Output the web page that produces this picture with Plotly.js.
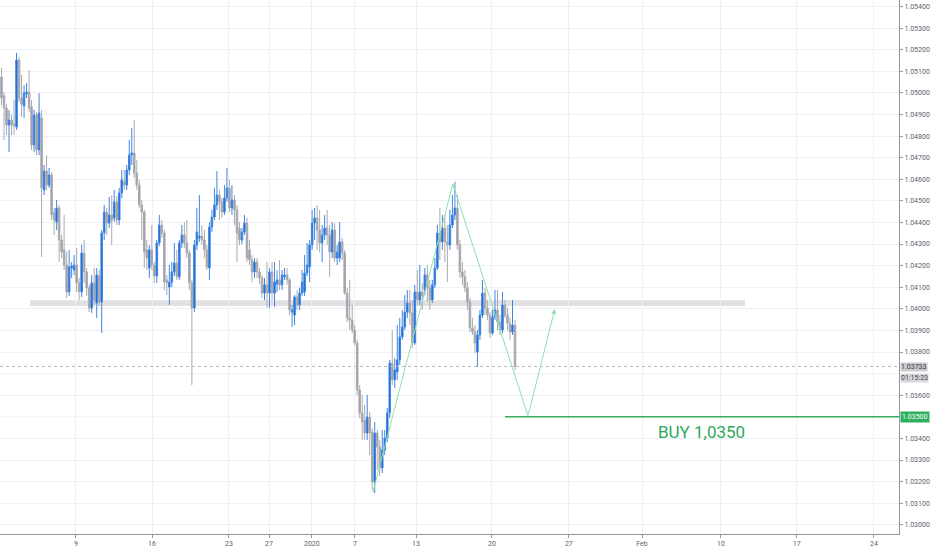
<!DOCTYPE html>
<html>
<head>
<meta charset="utf-8">
<script src="https://cdn.plot.ly/plotly-3.0.1.min.js"></script>
<style>html,body{margin:0;padding:0;background:#fff;}#chart{width:932px;height:550px;}</style>
</head>
<body>
<div id="chart"></div>
<script>
// 4-hour candles, EUR price
const openP = [1.05073,1.04986,1.04930,1.04851,1.04874,1.04856,1.04842,1.05152,1.04976,1.04939,1.04995,1.05004,1.04935,1.04759,1.04898,1.04736,1.04884,1.04550,1.04638,1.04573,1.04620,1.04444,1.04402,1.04467,1.04319,1.04273,1.04203,1.04078,1.04189,1.04180,1.04203,1.04120,1.04078,1.04258,1.04171,1.04097,1.04004,1.04120,1.04027,1.04152,1.04032,1.04351,1.04448,1.04397,1.04435,1.04421,1.04495,1.04411,1.04536,1.04588,1.04573,1.04643,1.04712,1.04722,1.04629,1.04573,1.04481,1.04448,1.04273,1.04189,1.04273,1.04203,1.04152,1.04305,1.04388,1.04351,1.04134,1.04101,1.04124,1.04171,1.04212,1.04148,1.04305,1.04342,1.04305,1.04258,1.04120,1.04004,1.04296,1.04328,1.04337,1.04319,1.04273,1.04189,1.04379,1.04425,1.04481,1.04527,1.04495,1.04448,1.04513,1.04560,1.04467,1.04504,1.04458,1.04374,1.04319,1.04356,1.04397,1.04273,1.04226,1.04171,1.04217,1.04171,1.04143,1.04073,1.04111,1.04073,1.04171,1.04073,1.04115,1.04134,1.04111,1.04148,1.04157,1.04134,1.03985,1.03971,1.04055,1.04018,1.04073,1.04078,1.04166,1.04194,1.04296,1.04397,1.04421,1.04365,1.04305,1.04342,1.04374,1.04342,1.04263,1.04365,1.04235,1.04235,1.04310,1.04258,1.04073,1.03958,1.03948,1.03902,1.03842,1.03624,1.03518,1.03485,1.03425,1.03499,1.03430,1.03198,1.03425,1.03360,1.03263,1.03346,1.03402,1.03518,1.03749,1.03671,1.03708,1.03763,1.03870,1.03916,1.03985,1.04027,1.03981,1.03842,1.04078,1.04041,1.04078,1.04087,1.04157,1.04097,1.04041,1.04111,1.04189,1.04351,1.04310,1.04374,1.04310,1.04296,1.04388,1.04435,1.04467,1.04296,1.04171,1.04148,1.04097,1.04032,1.03911,1.03893,1.03800,1.03879,1.03971,1.04073,1.04004,1.03971,1.03888,1.03962,1.03995,1.03939,1.03902,1.04018,1.03971,1.03934,1.03893,1.03925];
const highP = [1.05115,1.05004,1.04948,1.04921,1.04898,1.04967,1.05185,1.05166,1.05083,1.05036,1.05046,1.05106,1.04967,1.04921,1.04911,1.04999,1.04921,1.04666,1.04712,1.04652,1.04633,1.04467,1.04504,1.04481,1.04342,1.04435,1.04263,1.04273,1.04217,1.04249,1.04282,1.04143,1.04296,1.04319,1.04189,1.04111,1.04157,1.04189,1.04189,1.04180,1.04365,1.04481,1.04467,1.04518,1.04527,1.04550,1.04523,1.04560,1.04643,1.04643,1.04666,1.04782,1.04837,1.04874,1.04689,1.04597,1.04504,1.04458,1.04319,1.04296,1.04388,1.04217,1.04319,1.04435,1.04411,1.04365,1.04157,1.04203,1.04217,1.04305,1.04273,1.04319,1.04388,1.04402,1.04411,1.04273,1.04134,1.04319,1.04467,1.04527,1.04388,1.04365,1.04296,1.04402,1.04458,1.04560,1.04638,1.04550,1.04513,1.04573,1.04652,1.04597,1.04573,1.04527,1.04481,1.04402,1.04374,1.04435,1.04421,1.04319,1.04249,1.04235,1.04235,1.04189,1.04157,1.04143,1.04217,1.04189,1.04217,1.04217,1.04180,1.04226,1.04180,1.04189,1.04189,1.04143,1.04018,1.04064,1.04087,1.04097,1.04180,1.04249,1.04305,1.04319,1.04458,1.04467,1.04481,1.04458,1.04388,1.04435,1.04458,1.04388,1.04402,1.04397,1.04296,1.04402,1.04328,1.04273,1.04097,1.04134,1.04018,1.03925,1.03856,1.03647,1.03601,1.03555,1.03601,1.03522,1.03448,1.03476,1.03439,1.03393,1.03439,1.03439,1.03541,1.03763,1.03902,1.03772,1.03925,1.03958,1.03995,1.04064,1.04087,1.04087,1.04041,1.04111,1.04180,1.04203,1.04120,1.04189,1.04203,1.04134,1.04134,1.04235,1.04388,1.04467,1.04435,1.04435,1.04388,1.04458,1.04527,1.04588,1.04527,1.04319,1.04217,1.04180,1.04124,1.04050,1.03958,1.03925,1.03902,1.03995,1.04134,1.04097,1.04041,1.03985,1.03995,1.04087,1.04087,1.03971,1.04078,1.04041,1.04004,1.03958,1.04041,1.03948];
const lowP = [1.04944,1.04782,1.04805,1.04726,1.04805,1.04805,1.04828,1.04958,1.04888,1.04884,1.04976,1.04911,1.04736,1.04726,1.04712,1.04712,1.04240,1.04527,1.04550,1.04560,1.04411,1.04342,1.04365,1.04217,1.04235,1.04180,1.04050,1.04060,1.04143,1.04157,1.04078,1.04041,1.04055,1.04120,1.04060,1.03985,1.03981,1.04018,1.03958,1.04013,1.03888,1.04319,1.04342,1.04374,1.04296,1.04402,1.04388,1.04388,1.04513,1.04550,1.04550,1.04620,1.04666,1.04606,1.04550,1.04467,1.04319,1.04189,1.04180,1.04143,1.04180,1.04120,1.04120,1.04291,1.04328,1.04087,1.04064,1.04018,1.04101,1.04152,1.04134,1.04134,1.04282,1.04282,1.04235,1.04087,1.03647,1.03985,1.04273,1.04310,1.04296,1.04235,1.04180,1.04134,1.04356,1.04411,1.04458,1.04411,1.04421,1.04435,1.04495,1.04448,1.04435,1.04388,1.04217,1.04296,1.04300,1.04342,1.04217,1.04203,1.04124,1.04143,1.04143,1.04115,1.04050,1.04041,1.04004,1.04004,1.04041,1.04009,1.04078,1.04087,1.04087,1.04134,1.04111,1.03971,1.03916,1.03925,1.03995,1.03995,1.04060,1.04060,1.04152,1.04124,1.04273,1.04319,1.04273,1.04263,1.04217,1.04319,1.04296,1.04148,1.04235,1.04217,1.04203,1.04217,1.04226,1.04064,1.03939,1.03902,1.03888,1.03832,1.03601,1.03494,1.03393,1.03393,1.03393,1.03323,1.03161,1.03147,1.03254,1.03226,1.03240,1.03323,1.03383,1.03494,1.03647,1.03634,1.03671,1.03740,1.03856,1.03902,1.03958,1.03925,1.03819,1.03832,1.04018,1.04018,1.03995,1.04064,1.04032,1.03995,1.04027,1.04097,1.04180,1.04226,1.04273,1.04217,1.04124,1.04273,1.04374,1.04411,1.04273,1.04143,1.04111,1.04078,1.03995,1.03893,1.03879,1.03796,1.03731,1.03856,1.03958,1.03971,1.03948,1.03865,1.03879,1.03948,1.03902,1.03879,1.03888,1.03958,1.03902,1.03856,1.03879,1.03717];
const closeP = [1.04976,1.04930,1.04851,1.04874,1.04851,1.04847,1.05152,1.04976,1.04948,1.04999,1.05004,1.04930,1.04759,1.04898,1.04736,1.04907,1.04560,1.04638,1.04573,1.04620,1.04435,1.04411,1.04467,1.04319,1.04263,1.04203,1.04078,1.04194,1.04198,1.04203,1.04120,1.04078,1.04258,1.04171,1.04097,1.04004,1.04120,1.04041,1.04157,1.04032,1.04351,1.04448,1.04397,1.04435,1.04411,1.04495,1.04411,1.04536,1.04597,1.04573,1.04643,1.04712,1.04722,1.04629,1.04573,1.04481,1.04448,1.04263,1.04235,1.04273,1.04203,1.04152,1.04305,1.04388,1.04351,1.04124,1.04120,1.04124,1.04171,1.04212,1.04148,1.04305,1.04342,1.04305,1.04258,1.04120,1.04004,1.04296,1.04356,1.04337,1.04319,1.04273,1.04194,1.04379,1.04425,1.04481,1.04527,1.04495,1.04448,1.04513,1.04560,1.04467,1.04504,1.04458,1.04351,1.04319,1.04356,1.04397,1.04235,1.04226,1.04171,1.04217,1.04171,1.04143,1.04073,1.04111,1.04073,1.04171,1.04073,1.04124,1.04134,1.04111,1.04157,1.04157,1.04134,1.03995,1.03995,1.04055,1.04018,1.04073,1.04124,1.04166,1.04203,1.04296,1.04397,1.04421,1.04365,1.04305,1.04342,1.04374,1.04342,1.04263,1.04365,1.04235,1.04263,1.04310,1.04258,1.04073,1.03958,1.03948,1.03902,1.03842,1.03624,1.03518,1.03476,1.03425,1.03499,1.03425,1.03198,1.03425,1.03360,1.03263,1.03346,1.03402,1.03518,1.03749,1.03671,1.03717,1.03763,1.03870,1.03916,1.03985,1.04027,1.03981,1.03842,1.04078,1.04041,1.04078,1.04060,1.04157,1.04097,1.04041,1.04111,1.04189,1.04351,1.04310,1.04374,1.04310,1.04296,1.04388,1.04435,1.04467,1.04296,1.04171,1.04148,1.04097,1.04032,1.03911,1.03893,1.03842,1.03879,1.03971,1.04073,1.04004,1.03971,1.03888,1.03962,1.03995,1.03939,1.03902,1.04018,1.03971,1.03934,1.03893,1.03925,1.03733];

// date ticks (positions in candle-index units) and labels
const dateTickPos  = [29.7, 60.1, 90.8, 106.8, 123.9, 141.1, 165.5, 195.8, 226.5, 255.7, 287.2, 317.5, 348.3];
const dateTickText = ['9', '16', '23', '27', '2020', '7', '13', '20', '27', 'Feb', '10', '17', '24'];
// price ticks (1.03500 and 1.03700 labels are covered by the price tags)
const priceTicks = [1.030, 1.031, 1.032, 1.033, 1.034, 1.036, 1.038, 1.039, 1.040, 1.041, 1.042, 1.043, 1.044, 1.045, 1.046, 1.047, 1.048, 1.049, 1.050, 1.051, 1.052, 1.053, 1.054];
const hiddenGrid = [1.035, 1.037];

// drawings
const supportLevel = [1.04013, 1.04040];
const supportSpan = [11.4, 296.8];
const buyLevel = 1.03500;
const buyStart = 201;
const lastPrice = 1.03733;
const patternX = [148.3, 180.2, 210.2];
const patternY = [1.03152, 1.04578, 1.03504];
const arrowEnd = [220.9, 1.03999];

const idx = openP.map((_, i) => i);
const xMin = -0.6, xMax = 358.3;

const candles = {
  type: 'candlestick',
  x: idx, open: openP, high: highP, low: lowP, close: closeP,
  increasing: {line: {color: '#3f86e2', width: 1}, fillcolor: '#1564d2'},
  decreasing: {line: {color: '#a9aab1', width: 1}, fillcolor: '#9c9da5'},
  whiskerwidth: 0, hoverinfo: 'skip', showlegend: false
};
const pattern = {
  type: 'scatter', mode: 'lines', x: patternX, y: patternY,
  line: {color: '#8ee0ad', width: 1}, hoverinfo: 'skip', showlegend: false
};

const gridShapes = hiddenGrid.map(v => ({type: 'line', xref: 'x', yref: 'y', x0: xMin, x1: xMax, y0: v, y1: v,
  line: {color: '#eef0f3', width: 1}, layer: 'below'}));

const layout = {
  width: 932, height: 550,
  margin: {l: 0, r: 33, t: 0, b: 16},
  paper_bgcolor: '#ffffff', plot_bgcolor: '#ffffff',
  showlegend: false, boxgap: 0.12,
  font: {family: 'Roboto, "Liberation Sans", sans-serif', color: '#5d606b', size: 7},
  xaxis: {
    range: [xMin, xMax], rangeslider: {visible: false},
    tickmode: 'array', tickvals: dateTickPos, ticktext: dateTickText,
    showgrid: true, gridcolor: '#eef0f3', gridwidth: 1,
    showline: true, linecolor: '#9598a1', linewidth: 1,
    ticks: 'outside', ticklen: 3, tickcolor: '#9598a1',
    tickfont: {size: 7, color: '#5d606b'}, zeroline: false, fixedrange: true
  },
  yaxis: {
    side: 'right', range: [1.029574, 1.05430],
    tickmode: 'array', tickvals: priceTicks, ticktext: priceTicks.map(v => v.toFixed(5)),
    showgrid: true, gridcolor: '#eef0f3', gridwidth: 1,
    showline: true, linecolor: '#9598a1', linewidth: 1,
    ticks: 'outside', ticklen: 3, tickcolor: '#9598a1',
    tickfont: {size: 7, color: '#5d606b'}, zeroline: false, fixedrange: true
  },
  shapes: gridShapes.concat([
    {type: 'rect', xref: 'x', yref: 'y', x0: supportSpan[0], x1: supportSpan[1], y0: supportLevel[0], y1: supportLevel[1],
     fillcolor: '#e1e1e3', line: {width: 0}, layer: 'below'},
    {type: 'line', xref: 'x', yref: 'y', x0: xMin, x1: xMax, y0: lastPrice, y1: lastPrice,
     line: {color: '#b8bac0', width: 1, dash: 'dot'}},
    {type: 'line', xref: 'x', yref: 'y', x0: buyStart, x1: xMax, y0: buyLevel, y1: buyLevel,
     line: {color: '#34b05f', width: 1.5}}
  ]),
  annotations: [
    {x: arrowEnd[0], y: arrowEnd[1], ax: patternX[2], ay: patternY[2], xref: 'x', yref: 'y', axref: 'x', ayref: 'y',
     text: '', showarrow: true, arrowhead: 2, arrowsize: 1, arrowwidth: 1, arrowcolor: '#8ee0ad'},
    {x: 279.6, y: 1.03430, xref: 'x', yref: 'y', text: 'BUY 1,0350', showarrow: false,
     font: {size: 17, color: '#2fa85a', family: 'Roboto, sans-serif'}},
    {x: 1, xref: 'paper', xanchor: 'left', xshift: 1, y: lastPrice, yref: 'y', yanchor: 'middle',
     text: lastPrice.toFixed(5), showarrow: false, bgcolor: '#c9cace', borderpad: 0,
     font: {size: 7, color: '#3c3f47'}},
    {x: 1, xref: 'paper', xanchor: 'left', xshift: 1, y: lastPrice, yref: 'y', yanchor: 'top', yshift: -6,
     text: '01:15:23', showarrow: false, bgcolor: '#d6d7da', borderpad: 0,
     font: {size: 7, color: '#3c3f47'}},
    {x: 1, xref: 'paper', xanchor: 'left', xshift: 1, y: buyLevel, yref: 'y', yanchor: 'middle',
     text: buyLevel.toFixed(5), showarrow: false, bgcolor: '#2fb05e', borderpad: 1,
     font: {size: 7, color: '#ffffff'}}
  ]
};

Plotly.newPlot('chart', [candles, pattern], layout, {displayModeBar: false, staticPlot: true});
</script>
</body>
</html>
